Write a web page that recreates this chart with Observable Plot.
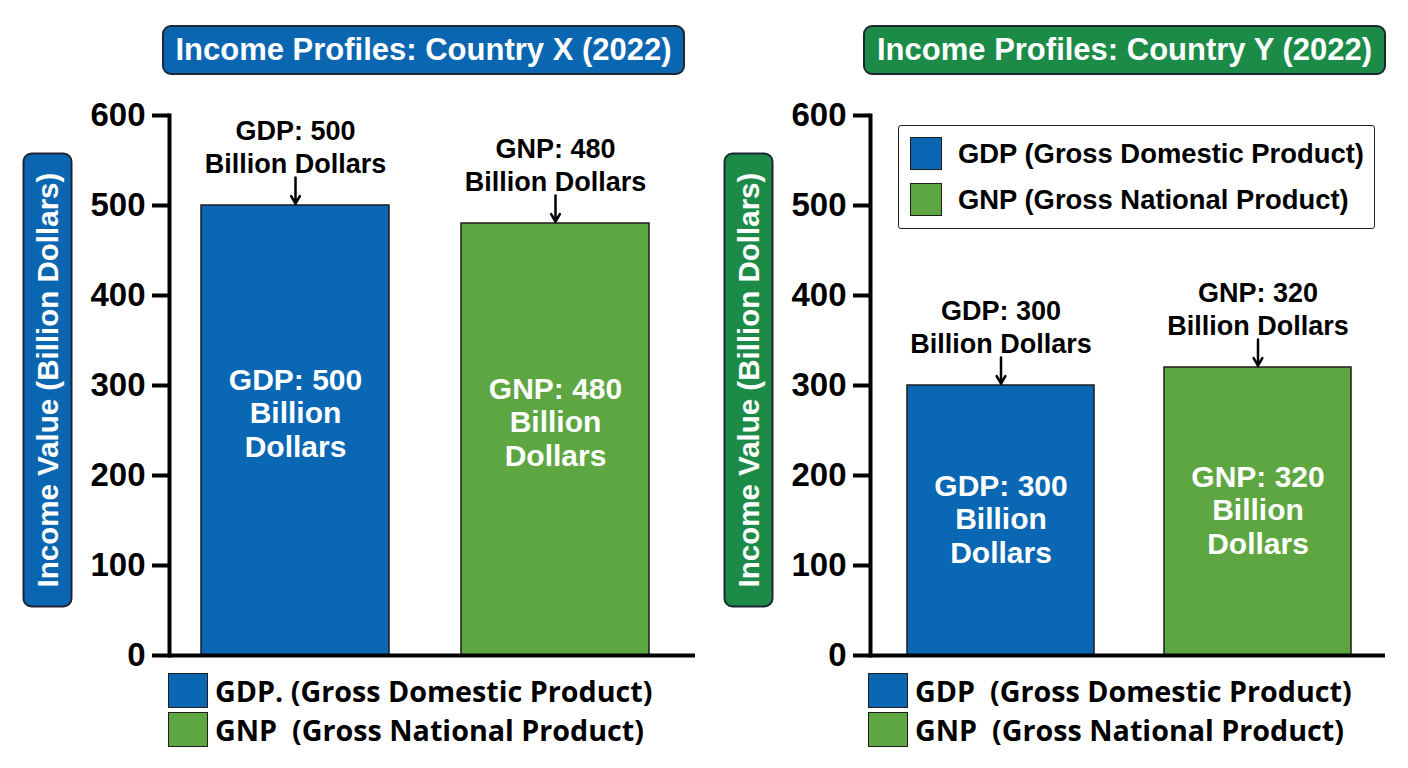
<!DOCTYPE html>
<html><head><meta charset="utf-8">
<script src="https://cdn.jsdelivr.net/npm/d3@7"></script>
<script src="https://cdn.jsdelivr.net/npm/@observablehq/plot@0.6"></script>
<style>
body{margin:0;background:#fff;}
#root{position:relative;width:1408px;height:768px;overflow:hidden;font-family:"Liberation Sans",Arial,sans-serif;background:#fff;}
.title{position:absolute;top:25px;height:50px;width:523px;box-sizing:border-box;border:2px solid #1c2733;border-radius:9px;color:#fff;font-weight:bold;font-size:31px;display:flex;align-items:center;justify-content:center;white-space:nowrap;}
.ylab{position:absolute;top:355px;width:455px;height:50px;box-sizing:border-box;border:2px solid #1c2733;border-radius:9px;color:#fff;font-weight:bold;font-size:29.5px;display:flex;align-items:center;justify-content:center;transform:rotate(-90deg);white-space:nowrap;}
.plot{position:absolute;top:90px;}
.legbox{position:absolute;left:898px;top:125px;width:477px;height:104px;box-sizing:border-box;border:1.5px solid #222;border-radius:3px;background:#fff;}
.row{position:absolute;display:flex;align-items:center;white-space:pre;font-weight:bold;color:#000;}
.sw{box-sizing:border-box;border:1.5px solid #1d1d1d;flex:none;}
.bot{font-family:"Open Sans","Noto Sans",sans-serif;font-size:28.7px;}
.bot .sw{width:40px;height:35px;margin-right:7px;}
.inbox{font-size:27.4px;}
.inbox .sw{width:32px;height:33px;margin-right:16px;}
</style>
</head>
<body>
<div id="root"></div>
<script>
const categories = ["GDP", "GNP"];
const countryXValues = [500, 480];
const countryYValues = [300, 320];
const panelTitles = ["Income Profiles: Country X (2022)", "Income Profiles: Country Y (2022)"];
const yTicks = [0, 100, 200, 300, 400, 500, 600];
const yLabel = "Income Value (Billion Dollars)";
const unitLabel = "Billion Dollars";
const legendLabelsX = ["GDP. (Gross Domestic Product)", "GNP  (Gross National Product)"];
const legendLabelsY = ["GDP  (Gross Domestic Product)", "GNP  (Gross National Product)"];
const legendLabelsBox = ["GDP (Gross Domestic Product)", "GNP (Gross National Product)"];

const barColors = ["#0a67b4", "#5da641"];
const titleColors = ["#0b66b2", "#1b8b47"];

const root = document.getElementById("root");

function panel(values, o) {
  const data = categories.map((c, i) => ({cat: c, value: values[i]}));
  return Plot.plot({
    width: 704, height: 600,
    marginLeft: o.ml, marginRight: o.mr, marginTop: 25, marginBottom: 35,
    x: {domain: categories, paddingInner: o.pi, paddingOuter: o.po, align: o.align, axis: null},
    y: {domain: [0, 600], axis: null},
    color: {domain: categories, range: barColors},
    style: {fontFamily: "'Liberation Sans', Arial, sans-serif", background: "transparent", color: "#000", overflow: "visible"},
    marks: [
      Plot.barY(data, {x: "cat", y: "value", fill: "cat", stroke: "#1d1d1d", strokeWidth: 1.5}),
      Plot.ruleY([0], {stroke: "#000", strokeWidth: 4}),
      Plot.frame({anchor: "left", stroke: "#000", strokeWidth: 4}),
      Plot.axisY({ticks: yTicks, tickSize: 17, strokeWidth: 4, tickPadding: 7, fontSize: 33, fontWeight: "bold", label: null, fill: "#000", stroke: "#000"}),
      Plot.text(data, {x: "cat", y: d => d.value / 2, text: d => `${d.cat}: ${d.value}\nBillion\nDollars`, fill: "#fff", fontSize: 30, fontWeight: "bold", lineHeight: 1.12, dy: o.innerDy}),
      Plot.text(data, {x: "cat", y: "value", text: d => `${d.cat}: ${d.value}\n${unitLabel}`, lineAnchor: "bottom", dy: -33, fontSize: 27, fontWeight: "bold", lineHeight: 1.2, fill: "#000"}),
      Plot.arrow(data, {x: "cat", y1: d => d.value + 31, y2: d => d.value + 2, stroke: "#000", strokeWidth: 2.5, headLength: 9})
    ]
  });
}

function add(html) { root.insertAdjacentHTML("beforeend", html); }

add(`<div class="title" style="left:162px;background:${titleColors[0]}">${panelTitles[0]}</div>`);
add(`<div class="title" style="left:863px;background:${titleColors[1]}">${panelTitles[1]}</div>`);
add(`<div class="ylab" style="left:${47 - 227.5}px;background:${titleColors[0]}">${yLabel}</div>`);
add(`<div class="ylab" style="left:${748 - 227.5}px;background:${titleColors[1]}">${yLabel}</div>`);

const p1 = panel(countryXValues, {ml: 169, mr: 9, pi: 0.277, po: 0.15, align: 0.41, innerDy: -18});
p1.classList.add("plot"); p1.style.left = "0px";
root.appendChild(p1);
const p2 = panel(countryYValues, {ml: 166, mr: 23, pi: 0.274, po: 0.137, align: 0.52, innerDy: -2});
p2.classList.add("plot"); p2.style.left = "704px";
root.appendChild(p2);

add(`<div class="legbox"></div>`);
legendLabelsBox.forEach((t, i) => {
  add(`<div class="row inbox" style="left:910px;top:${137 + i * 46}px;height:33px"><div class="sw" style="background:${barColors[i]}"></div>${t}</div>`);
});
legendLabelsX.forEach((t, i) => {
  add(`<div class="row bot" style="left:168px;top:${673 + i * 39}px;height:35px"><div class="sw" style="background:${barColors[i]}"></div>${t}</div>`);
});
legendLabelsY.forEach((t, i) => {
  add(`<div class="row bot" style="left:868px;top:${673 + i * 39}px;height:35px"><div class="sw" style="background:${barColors[i]}"></div>${t}</div>`);
});
</script>
</body></html>
